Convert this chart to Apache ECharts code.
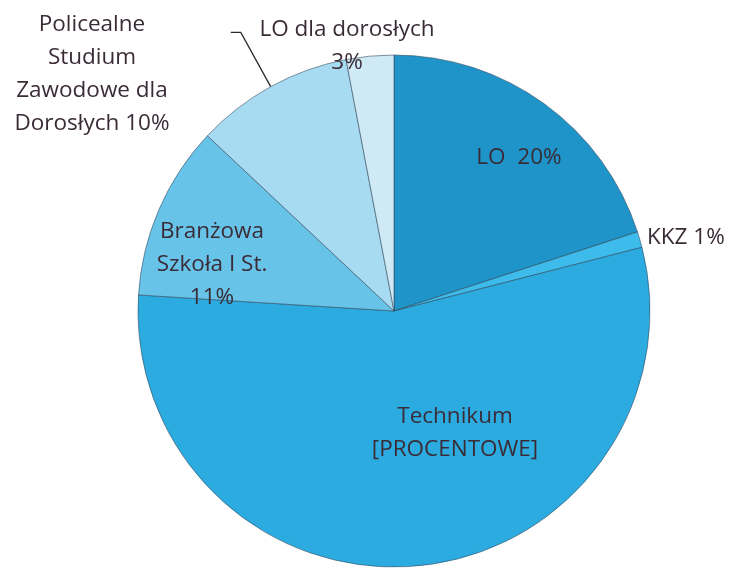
<!DOCTYPE html>
<html>
<head>
<meta charset="utf-8">
<script src="https://cdn.jsdelivr.net/npm/echarts@6/dist/echarts.min.js"></script>
<style>
  html, body { margin: 0; padding: 0; background: #fff; }
  #main { width: 730px; height: 568px; }
</style>
</head>
<body>
<div id="main"></div>
<script>
var names = ['LO', 'KKZ', 'Technikum', 'Branżowa Szkoła I St.', 'Policealne Studium Zawodowe dla Dorosłych', 'LO dla dorosłych'];
var values = [20, 1, 55, 11, 10, 3];
var labelTexts = [
    'LO  20%',
    'KKZ 1%',
    'Technikum\n[PROCENTOWE]',
    'Branżowa\nSzkoła I St.\n11%',
    'Policealne\nStudium\nZawodowe dla\nDorosłych 10%',
    'LO dla dorosłych\n3%'
];
var colors = ['#1e94c9', '#3dbbea', '#2cabe0', '#68c3e9', '#a7dbf2', '#cfe9f5'];

// label placement (centre of each text block)
var labelPos = [
    [519, 158, 'center'],
    [647, 238, 'left'],
    [455, 433, 'center'],
    [212, 265, 'center'],
    [92, 74, 'center'],
    [347, 46, 'center']
];

var myChart = echarts.init(document.getElementById('main'));

var pieData = names.map(function (n, i) {
    var d = { name: n, value: values[i], itemStyle: { color: colors[i] } };
    if (i === 4) {
        d.labelLine = { show: true, length: 62, length2: 10, lineStyle: { color: '#2b2b2b', width: 1.3 } };
    }
    return d;
});

var option = {
    animation: false,
    backgroundColor: '#fff',
    series: [{
        type: 'pie',
        center: [394, 311],
        radius: 256,
        startAngle: 90,
        clockwise: true,
        avoidLabelOverlap: false,
        itemStyle: {
            borderColor: 'rgba(45,65,85,0.55)',
            borderWidth: 1
        },
        label: {
            show: true,
            position: 'outside',
            formatter: function (p) { return labelTexts[p.dataIndex]; },
            color: '#3a2c37',
            fontFamily: 'Open Sans',
            fontSize: 22.5,
            lineHeight: 33
        },
        labelLine: { show: false },
        labelLayout: function (p) {
            var lp = labelPos[p.dataIndex];
            var o = { x: lp[0], y: lp[1], align: lp[2], verticalAlign: 'middle' };
            if (p.labelLinePoints) o.labelLinePoints = p.labelLinePoints;
            return o;
        },
        data: pieData
    }]
};

myChart.setOption(option);
</script>
</body>
</html>
